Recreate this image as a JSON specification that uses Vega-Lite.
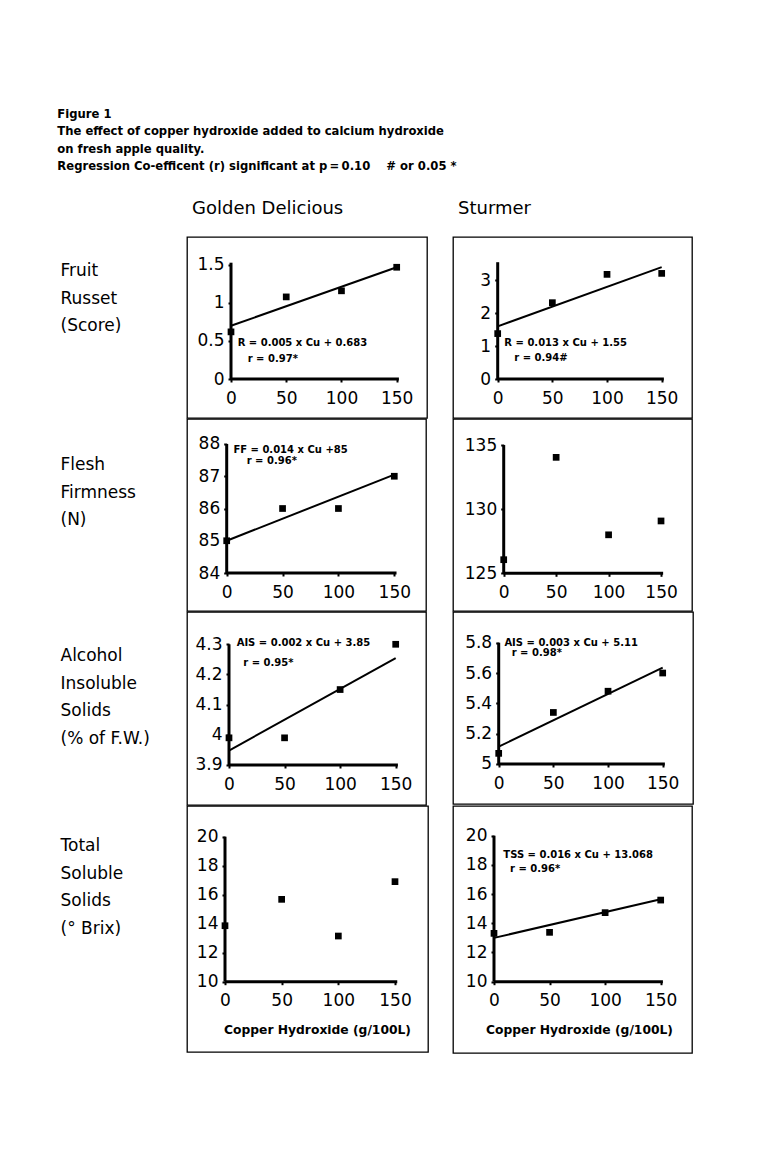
{
  "$schema": "https://vega.github.io/schema/vega-lite/v6.json",
  "background": "white",
  "padding": {"left": 57, "top": 108, "right": 5, "bottom": 5},
  "title": {
    "text": ["Figure 1", "The effect of copper hydroxide added to calcium hydroxide", "on fresh apple quality.", "Regression Co-efficent (r) significant at p\u2009=\u20090.10\u00a0\u00a0\u00a0\u00a0# or 0.05\u00a0*"],
    "anchor": "start", "frame": "bounds", "font": "DejaVu Sans", "fontSize": 11.6, "fontWeight": "bold",
    "lineHeight": 17.5, "baseline": "bottom", "offset": 15, "color": "black", "dx": -2
  },
  "datasets": {
    "points": [
      {"cultivar": "Golden Delicious", "trait": "Fruit Russet", "cu": 0, "value": 0.62},
      {"cultivar": "Golden Delicious", "trait": "Fruit Russet", "cu": 50, "value": 1.08},
      {"cultivar": "Golden Delicious", "trait": "Fruit Russet", "cu": 100, "value": 1.16},
      {"cultivar": "Golden Delicious", "trait": "Fruit Russet", "cu": 150, "value": 1.47},
      {"cultivar": "Sturmer", "trait": "Fruit Russet", "cu": 0, "value": 1.38},
      {"cultivar": "Sturmer", "trait": "Fruit Russet", "cu": 50, "value": 2.32},
      {"cultivar": "Sturmer", "trait": "Fruit Russet", "cu": 100, "value": 3.18},
      {"cultivar": "Sturmer", "trait": "Fruit Russet", "cu": 150, "value": 3.21},
      {"cultivar": "Golden Delicious", "trait": "Flesh Firmness", "cu": 0, "value": 85.0},
      {"cultivar": "Golden Delicious", "trait": "Flesh Firmness", "cu": 50, "value": 86.0},
      {"cultivar": "Golden Delicious", "trait": "Flesh Firmness", "cu": 100, "value": 86.0},
      {"cultivar": "Golden Delicious", "trait": "Flesh Firmness", "cu": 150, "value": 87.0},
      {"cultivar": "Sturmer", "trait": "Flesh Firmness", "cu": 0, "value": 126.06},
      {"cultivar": "Sturmer", "trait": "Flesh Firmness", "cu": 50, "value": 134.04},
      {"cultivar": "Sturmer", "trait": "Flesh Firmness", "cu": 100, "value": 128.0},
      {"cultivar": "Sturmer", "trait": "Flesh Firmness", "cu": 150, "value": 129.08},
      {"cultivar": "Golden Delicious", "trait": "Alcohol Insoluble Solids", "cu": 0, "value": 3.99},
      {"cultivar": "Golden Delicious", "trait": "Alcohol Insoluble Solids", "cu": 50, "value": 3.99},
      {"cultivar": "Golden Delicious", "trait": "Alcohol Insoluble Solids", "cu": 100, "value": 4.15},
      {"cultivar": "Golden Delicious", "trait": "Alcohol Insoluble Solids", "cu": 150, "value": 4.30},
      {"cultivar": "Sturmer", "trait": "Alcohol Insoluble Solids", "cu": 0, "value": 5.07},
      {"cultivar": "Sturmer", "trait": "Alcohol Insoluble Solids", "cu": 50, "value": 5.34},
      {"cultivar": "Sturmer", "trait": "Alcohol Insoluble Solids", "cu": 100, "value": 5.48},
      {"cultivar": "Sturmer", "trait": "Alcohol Insoluble Solids", "cu": 150, "value": 5.60},
      {"cultivar": "Golden Delicious", "trait": "Total Soluble Solids", "cu": 0, "value": 13.86},
      {"cultivar": "Golden Delicious", "trait": "Total Soluble Solids", "cu": 50, "value": 15.68},
      {"cultivar": "Golden Delicious", "trait": "Total Soluble Solids", "cu": 100, "value": 13.15},
      {"cultivar": "Golden Delicious", "trait": "Total Soluble Solids", "cu": 150, "value": 16.9},
      {"cultivar": "Sturmer", "trait": "Total Soluble Solids", "cu": 0, "value": 13.31},
      {"cultivar": "Sturmer", "trait": "Total Soluble Solids", "cu": 50, "value": 13.38},
      {"cultivar": "Sturmer", "trait": "Total Soluble Solids", "cu": 100, "value": 14.73},
      {"cultivar": "Sturmer", "trait": "Total Soluble Solids", "cu": 150, "value": 15.59}
    ],
    "fits": [
      {"cultivar": "Golden Delicious", "trait": "Fruit Russet", "cu": 0, "value": 0.70},
      {"cultivar": "Golden Delicious", "trait": "Fruit Russet", "cu": 150, "value": 1.47},
      {"cultivar": "Sturmer", "trait": "Fruit Russet", "cu": 0, "value": 1.60},
      {"cultivar": "Sturmer", "trait": "Fruit Russet", "cu": 150, "value": 3.40},
      {"cultivar": "Golden Delicious", "trait": "Flesh Firmness", "cu": 0, "value": 85.0},
      {"cultivar": "Golden Delicious", "trait": "Flesh Firmness", "cu": 150, "value": 87.05},
      {"cultivar": "Golden Delicious", "trait": "Alcohol Insoluble Solids", "cu": 0, "value": 3.948},
      {"cultivar": "Golden Delicious", "trait": "Alcohol Insoluble Solids", "cu": 150, "value": 4.254},
      {"cultivar": "Sturmer", "trait": "Alcohol Insoluble Solids", "cu": 0, "value": 5.114},
      {"cultivar": "Sturmer", "trait": "Alcohol Insoluble Solids", "cu": 150, "value": 5.635},
      {"cultivar": "Sturmer", "trait": "Total Soluble Solids", "cu": 0, "value": 13.0},
      {"cultivar": "Sturmer", "trait": "Total Soluble Solids", "cu": 150, "value": 15.65}
    ],
    "notes": [
      {"cultivar": "Golden Delicious", "trait": "Fruit Russet", "eq": "R = 0.005 x Cu + 0.683", "r": "r = 0.97*"},
      {"cultivar": "Sturmer", "trait": "Fruit Russet", "eq": "R = 0.013 x Cu + 1.55", "r": "r = 0.94#"},
      {"cultivar": "Golden Delicious", "trait": "Flesh Firmness", "eq": "FF = 0.014 x Cu +85", "r": "r = 0.96*"},
      {"cultivar": "Golden Delicious", "trait": "Alcohol Insoluble Solids", "eq": "AIS = 0.002 x Cu + 3.85", "r": "r = 0.95*"},
      {"cultivar": "Sturmer", "trait": "Alcohol Insoluble Solids", "eq": "AIS = 0.003 x Cu + 5.11", "r": "r = 0.98*"},
      {"cultivar": "Sturmer", "trait": "Total Soluble Solids", "eq": "TSS = 0.016 x Cu + 13.068", "r": "r = 0.96*"}
    ]
  },
  "columns": 2,
  "spacing": {"row": -1, "column": 23},
  "concat": [
    {
      "width": 240, "height": 181,
      "title": {"text": "Golden Delicious", "anchor": "start", "frame": "group", "dx": 5, "offset": 5.5, "fontSize": 18, "fontWeight": "normal", "font": "DejaVu Sans", "baseline": "alphabetic", "color": "black"},
      "layer": [
        {"data": {"name": "points"}, "transform": [{"filter": "datum.cultivar === 'Golden Delicious' && datum.trait === 'Fruit Russet'"}],
         "mark": {"type": "square", "size": 45, "color": "black", "opacity": 1},
         "encoding": {
           "x": {"field": "cu", "type": "quantitative", "scale": {"domain": [-39.83, 177.43], "nice": false, "zero": false}, "axis": {"values": [0, 50, 100, 150], "offset": -39, "title": null}},
           "y": {"field": "value", "type": "quantitative", "scale": {"domain": [-0.513, 1.868], "nice": false, "zero": false}, "axis": {"values": [0, 0.5, 1, 1.5], "format": "~g", "offset": -44, "title": ["Fruit", "Russet", "(Score)"], "titleAngle": 0, "titleAlign": "left", "titleBaseline": "top", "titleX": -171, "titleY": 25.6, "titleFontSize": 17, "titleFontWeight": "normal", "titleLineHeight": 27.5}}
         }},
        {"data": {"values": [{}]}, "mark": {"type": "rule", "color": "black", "strokeWidth": 3}, "encoding": {"x": {"datum": 0}, "y": {"datum": 0}, "y2": {"datum": 1.53}}},
        {"data": {"values": [{}]}, "mark": {"type": "rule", "color": "black", "strokeWidth": 3}, "encoding": {"x": {"datum": 0}, "x2": {"datum": 152}, "y": {"datum": 0}}},
        {"data": {"name": "fits"}, "transform": [{"filter": "datum.cultivar === 'Golden Delicious' && datum.trait === 'Fruit Russet'"}],
         "mark": {"type": "line", "color": "black", "strokeWidth": 2}, "encoding": {"x": {"field": "cu", "type": "quantitative"}, "y": {"field": "value", "type": "quantitative"}}},
        {"data": {"name": "notes"}, "transform": [{"filter": "datum.cultivar === 'Golden Delicious' && datum.trait === 'Fruit Russet'"}],
         "mark": {"type": "text", "align": "left", "baseline": "middle", "fontSize": 10, "fontWeight": "bold", "font": "DejaVu Sans", "color": "black"},
         "encoding": {"x": {"datum": 6}, "y": {"datum": 0.469}, "text": {"field": "eq"}}},
        {"data": {"name": "notes"}, "transform": [{"filter": "datum.cultivar === 'Golden Delicious' && datum.trait === 'Fruit Russet'"}],
         "mark": {"type": "text", "align": "left", "baseline": "middle", "fontSize": 10, "fontWeight": "bold", "font": "DejaVu Sans", "color": "black"},
         "encoding": {"x": {"datum": 15.1}, "y": {"datum": 0.263}, "text": {"field": "r"}}}
      ]
    },
    {
      "width": 239, "height": 181,
      "title": {"text": "Sturmer", "anchor": "start", "frame": "group", "dx": 5, "offset": 5.5, "fontSize": 18, "fontWeight": "normal", "font": "DejaVu Sans", "baseline": "alphabetic", "color": "black"},
      "layer": [
        {"data": {"name": "points"}, "transform": [{"filter": "datum.cultivar === 'Sturmer' && datum.trait === 'Fruit Russet'"}],
         "mark": {"type": "square", "size": 45, "color": "black", "opacity": 1},
         "encoding": {
           "x": {"field": "cu", "type": "quantitative", "scale": {"domain": [-40.88, 177.72], "nice": false, "zero": false}, "axis": {"values": [0, 50, 100, 150], "offset": -39, "title": null}},
           "y": {"field": "value", "type": "quantitative", "scale": {"domain": [-1.185, 4.316], "nice": false, "zero": false}, "axis": {"values": [0, 1, 2, 3], "format": "~g", "offset": -44.7, "title": null}}
         }},
        {"data": {"values": [{}]}, "mark": {"type": "rule", "color": "black", "strokeWidth": 3}, "encoding": {"x": {"datum": 0}, "y": {"datum": 0}, "y2": {"datum": 3.55}}},
        {"data": {"values": [{}]}, "mark": {"type": "rule", "color": "black", "strokeWidth": 3}, "encoding": {"x": {"datum": 0}, "x2": {"datum": 152}, "y": {"datum": 0}}},
        {"data": {"name": "fits"}, "transform": [{"filter": "datum.cultivar === 'Sturmer' && datum.trait === 'Fruit Russet'"}],
         "mark": {"type": "line", "color": "black", "strokeWidth": 2}, "encoding": {"x": {"field": "cu", "type": "quantitative"}, "y": {"field": "value", "type": "quantitative"}}},
        {"data": {"name": "notes"}, "transform": [{"filter": "datum.cultivar === 'Sturmer' && datum.trait === 'Fruit Russet'"}],
         "mark": {"type": "text", "align": "left", "baseline": "middle", "fontSize": 10, "fontWeight": "bold", "font": "DejaVu Sans", "color": "black"},
         "encoding": {"x": {"datum": 6.1}, "y": {"datum": 1.084}, "text": {"field": "eq"}}},
        {"data": {"name": "notes"}, "transform": [{"filter": "datum.cultivar === 'Sturmer' && datum.trait === 'Fruit Russet'"}],
         "mark": {"type": "text", "align": "left", "baseline": "middle", "fontSize": 10, "fontWeight": "bold", "font": "DejaVu Sans", "color": "black"},
         "encoding": {"x": {"datum": 15.2}, "y": {"datum": 0.628}, "text": {"field": "r"}}}
      ]
    },
    {
      "width": 239, "height": 192,
      "layer": [
        {"data": {"name": "points"}, "transform": [{"filter": "datum.cultivar === 'Golden Delicious' && datum.trait === 'Flesh Firmness'"}],
         "mark": {"type": "square", "size": 45, "color": "black", "opacity": 1},
         "encoding": {
           "x": {"field": "cu", "type": "quantitative", "scale": {"domain": [-35.53, 178.38], "nice": false, "zero": false}, "axis": {"values": [0, 50, 100, 150], "offset": -38, "title": null}},
           "y": {"field": "value", "type": "quantitative", "scale": {"domain": [82.822, 88.775], "nice": false, "zero": false}, "axis": {"values": [84, 85, 86, 87, 88], "format": "~g", "offset": -39.7, "title": ["Flesh", "Firmness", "(N)"], "titleAngle": 0, "titleAlign": "left", "titleBaseline": "top", "titleX": -166.7, "titleY": 37.6, "titleFontSize": 17, "titleFontWeight": "normal", "titleLineHeight": 27.5}}
         }},
        {"data": {"values": [{}]}, "mark": {"type": "rule", "color": "black", "strokeWidth": 3}, "encoding": {"x": {"datum": 0}, "y": {"datum": 84}, "y2": {"datum": 88}}},
        {"data": {"values": [{}]}, "mark": {"type": "rule", "color": "black", "strokeWidth": 3}, "encoding": {"x": {"datum": 0}, "x2": {"datum": 152}, "y": {"datum": 84}}},
        {"data": {"name": "fits"}, "transform": [{"filter": "datum.cultivar === 'Golden Delicious' && datum.trait === 'Flesh Firmness'"}],
         "mark": {"type": "line", "color": "black", "strokeWidth": 2}, "encoding": {"x": {"field": "cu", "type": "quantitative"}, "y": {"field": "value", "type": "quantitative"}}},
        {"data": {"name": "notes"}, "transform": [{"filter": "datum.cultivar === 'Golden Delicious' && datum.trait === 'Flesh Firmness'"}],
         "mark": {"type": "text", "align": "left", "baseline": "middle", "fontSize": 10, "fontWeight": "bold", "font": "DejaVu Sans", "color": "black"},
         "encoding": {"x": {"datum": 6.0}, "y": {"datum": 87.82}, "text": {"field": "eq"}}},
        {"data": {"name": "notes"}, "transform": [{"filter": "datum.cultivar === 'Golden Delicious' && datum.trait === 'Flesh Firmness'"}],
         "mark": {"type": "text", "align": "left", "baseline": "middle", "fontSize": 10, "fontWeight": "bold", "font": "DejaVu Sans", "color": "black"},
         "encoding": {"x": {"datum": 17.9}, "y": {"datum": 87.46}, "text": {"field": "r"}}}
      ]
    },
    {
      "width": 239, "height": 192,
      "layer": [
        {"data": {"name": "points"}, "transform": [{"filter": "datum.cultivar === 'Sturmer' && datum.trait === 'Flesh Firmness'"}],
         "mark": {"type": "square", "size": 45, "color": "black", "opacity": 1},
         "encoding": {
           "x": {"field": "cu", "type": "quantitative", "scale": {"domain": [-48.35, 179.53], "nice": false, "zero": false}, "axis": {"values": [0, 50, 100, 150], "offset": -37.7, "title": null}},
           "y": {"field": "value", "type": "quantitative", "scale": {"domain": [122.06, 137.03], "nice": false, "zero": false}, "axis": {"values": [125, 130, 135], "format": "~g", "offset": -50.7, "title": null}}
         }},
        {"data": {"values": [{}]}, "mark": {"type": "rule", "color": "black", "strokeWidth": 3}, "encoding": {"x": {"datum": 0}, "y": {"datum": 125}, "y2": {"datum": 135}}},
        {"data": {"values": [{}]}, "mark": {"type": "rule", "color": "black", "strokeWidth": 3}, "encoding": {"x": {"datum": 0}, "x2": {"datum": 152}, "y": {"datum": 125}}}
      ]
    },
    {
      "width": 239, "height": 193,
      "layer": [
        {"data": {"name": "points"}, "transform": [{"filter": "datum.cultivar === 'Golden Delicious' && datum.trait === 'Alcohol Insoluble Solids'"}],
         "mark": {"type": "square", "size": 45, "color": "black", "opacity": 1},
         "encoding": {
           "x": {"field": "cu", "type": "quantitative", "scale": {"domain": [-37.79, 177.27], "nice": false, "zero": false}, "axis": {"values": [0, 50, 100, 150], "offset": -40, "title": null}},
           "y": {"field": "value", "type": "quantitative", "scale": {"domain": [3.7674, 4.407], "nice": false, "zero": false}, "axis": {"values": [3.9, 4, 4.1, 4.2, 4.3], "format": "~g", "offset": -42, "title": ["Alcohol", "Insoluble", "Solids", "(% of F.W.)"], "titleAngle": 0, "titleAlign": "left", "titleBaseline": "top", "titleX": -169, "titleY": 35.6, "titleFontSize": 17, "titleFontWeight": "normal", "titleLineHeight": 27.5}}
         }},
        {"data": {"values": [{}]}, "mark": {"type": "rule", "color": "black", "strokeWidth": 3}, "encoding": {"x": {"datum": 0}, "y": {"datum": 3.9}, "y2": {"datum": 4.3}}},
        {"data": {"values": [{}]}, "mark": {"type": "rule", "color": "black", "strokeWidth": 3}, "encoding": {"x": {"datum": 0}, "x2": {"datum": 152}, "y": {"datum": 3.9}}},
        {"data": {"name": "fits"}, "transform": [{"filter": "datum.cultivar === 'Golden Delicious' && datum.trait === 'Alcohol Insoluble Solids'"}],
         "mark": {"type": "line", "color": "black", "strokeWidth": 2}, "encoding": {"x": {"field": "cu", "type": "quantitative"}, "y": {"field": "value", "type": "quantitative"}}},
        {"data": {"name": "notes"}, "transform": [{"filter": "datum.cultivar === 'Golden Delicious' && datum.trait === 'Alcohol Insoluble Solids'"}],
         "mark": {"type": "text", "align": "left", "baseline": "middle", "fontSize": 10, "fontWeight": "bold", "font": "DejaVu Sans", "color": "black"},
         "encoding": {"x": {"datum": 6.9}, "y": {"datum": 4.303}, "text": {"field": "eq"}}},
        {"data": {"name": "notes"}, "transform": [{"filter": "datum.cultivar === 'Golden Delicious' && datum.trait === 'Alcohol Insoluble Solids'"}],
         "mark": {"type": "text", "align": "left", "baseline": "middle", "fontSize": 10, "fontWeight": "bold", "font": "DejaVu Sans", "color": "black"},
         "encoding": {"x": {"datum": 12.9}, "y": {"datum": 4.237}, "text": {"field": "r"}}}
      ]
    },
    {
      "width": 240, "height": 192,
      "layer": [
        {"data": {"name": "points"}, "transform": [{"filter": "datum.cultivar === 'Sturmer' && datum.trait === 'Alcohol Insoluble Solids'"}],
         "mark": {"type": "square", "size": 45, "color": "black", "opacity": 1},
         "encoding": {
           "x": {"field": "cu", "type": "quantitative", "scale": {"domain": [-41.8, 177.72], "nice": false, "zero": false}, "axis": {"values": [0, 50, 100, 150], "offset": -40, "title": null}},
           "y": {"field": "value", "type": "quantitative", "scale": {"domain": [4.736, 6.0026], "nice": false, "zero": false}, "axis": {"values": [5, 5.2, 5.4, 5.6, 5.8], "format": "~g", "offset": -45.7, "title": null}}
         }},
        {"data": {"values": [{}]}, "mark": {"type": "rule", "color": "black", "strokeWidth": 3}, "encoding": {"x": {"datum": 0}, "y": {"datum": 5}, "y2": {"datum": 5.8}}},
        {"data": {"values": [{}]}, "mark": {"type": "rule", "color": "black", "strokeWidth": 3}, "encoding": {"x": {"datum": 0}, "x2": {"datum": 152}, "y": {"datum": 5}}},
        {"data": {"name": "fits"}, "transform": [{"filter": "datum.cultivar === 'Sturmer' && datum.trait === 'Alcohol Insoluble Solids'"}],
         "mark": {"type": "line", "color": "black", "strokeWidth": 2}, "encoding": {"x": {"field": "cu", "type": "quantitative"}, "y": {"field": "value", "type": "quantitative"}}},
        {"data": {"name": "notes"}, "transform": [{"filter": "datum.cultivar === 'Sturmer' && datum.trait === 'Alcohol Insoluble Solids'"}],
         "mark": {"type": "text", "align": "left", "baseline": "middle", "fontSize": 10, "fontWeight": "bold", "font": "DejaVu Sans", "color": "black"},
         "encoding": {"x": {"datum": 5.2}, "y": {"datum": 5.8}, "text": {"field": "eq"}}},
        {"data": {"name": "notes"}, "transform": [{"filter": "datum.cultivar === 'Sturmer' && datum.trait === 'Alcohol Insoluble Solids'"}],
         "mark": {"type": "text", "align": "left", "baseline": "middle", "fontSize": 10, "fontWeight": "bold", "font": "DejaVu Sans", "color": "black"},
         "encoding": {"x": {"datum": 11.9}, "y": {"datum": 5.73}, "text": {"field": "r"}}}
      ]
    },
    {
      "width": 241, "height": 246,
      "layer": [
        {"data": {"name": "points"}, "transform": [{"filter": "datum.cultivar === 'Golden Delicious' && datum.trait === 'Total Soluble Solids'"}],
         "mark": {"type": "square", "size": 45, "color": "black", "opacity": 1},
         "encoding": {
           "x": {"field": "cu", "type": "quantitative", "scale": {"domain": [-33.53, 179.12], "nice": false, "zero": false}, "axis": {"values": [0, 50, 100, 150], "offset": -70.3, "title": "Copper Hydroxide (g/100L)", "titleFontSize": 12.3, "titleFontWeight": "bold", "titleX": 130, "titleY": 48, "titleBaseline": "middle", "titleAlign": "center"}},
           "y": {"field": "value", "type": "quantitative", "scale": {"domain": [5.152, 22.117], "nice": false, "zero": false}, "axis": {"values": [10, 12, 14, 16, 18, 20], "format": "~g", "offset": -38, "title": ["Total", "Soluble", "Solids", "(° Brix)"], "titleAngle": 0, "titleAlign": "left", "titleBaseline": "top", "titleX": -165, "titleY": 31.6, "titleFontSize": 17, "titleFontWeight": "normal", "titleLineHeight": 27.5}}
         }},
        {"data": {"values": [{}]}, "mark": {"type": "rule", "color": "black", "strokeWidth": 3}, "encoding": {"x": {"datum": 0}, "y": {"datum": 10}, "y2": {"datum": 20}}},
        {"data": {"values": [{}]}, "mark": {"type": "rule", "color": "black", "strokeWidth": 3}, "encoding": {"x": {"datum": 0}, "x2": {"datum": 152}, "y": {"datum": 10}}}
      ]
    },
    {
      "width": 239, "height": 247,
      "layer": [
        {"data": {"name": "points"}, "transform": [{"filter": "datum.cultivar === 'Sturmer' && datum.trait === 'Total Soluble Solids'"}],
         "mark": {"type": "square", "size": 45, "color": "black", "opacity": 1},
         "encoding": {
           "x": {"field": "cu", "type": "quantitative", "scale": {"domain": [-36.89, 178.17], "nice": false, "zero": false}, "axis": {"values": [0, 50, 100, 150], "offset": -71.3, "title": "Copper Hydroxide (g/100L)", "titleFontSize": 12.3, "titleFontWeight": "bold", "titleX": 126, "titleY": 48, "titleBaseline": "middle", "titleAlign": "center"}},
           "y": {"field": "value", "type": "quantitative", "scale": {"domain": [5.116, 22.034], "nice": false, "zero": false}, "axis": {"values": [10, 12, 14, 16, 18, 20], "format": "~g", "offset": -41, "title": null}}
         }},
        {"data": {"values": [{}]}, "mark": {"type": "rule", "color": "black", "strokeWidth": 3}, "encoding": {"x": {"datum": 0}, "y": {"datum": 10}, "y2": {"datum": 20}}},
        {"data": {"values": [{}]}, "mark": {"type": "rule", "color": "black", "strokeWidth": 3}, "encoding": {"x": {"datum": 0}, "x2": {"datum": 152}, "y": {"datum": 10}}},
        {"data": {"name": "fits"}, "transform": [{"filter": "datum.cultivar === 'Sturmer' && datum.trait === 'Total Soluble Solids'"}],
         "mark": {"type": "line", "color": "black", "strokeWidth": 2}, "encoding": {"x": {"field": "cu", "type": "quantitative"}, "y": {"field": "value", "type": "quantitative"}}},
        {"data": {"name": "notes"}, "transform": [{"filter": "datum.cultivar === 'Sturmer' && datum.trait === 'Total Soluble Solids'"}],
         "mark": {"type": "text", "align": "left", "baseline": "middle", "fontSize": 10, "fontWeight": "bold", "font": "DejaVu Sans", "color": "black"},
         "encoding": {"x": {"datum": 8.4}, "y": {"datum": 18.68}, "text": {"field": "eq"}}},
        {"data": {"name": "notes"}, "transform": [{"filter": "datum.cultivar === 'Sturmer' && datum.trait === 'Total Soluble Solids'"}],
         "mark": {"type": "text", "align": "left", "baseline": "middle", "fontSize": 10, "fontWeight": "bold", "font": "DejaVu Sans", "color": "black"},
         "encoding": {"x": {"datum": 14.4}, "y": {"datum": 17.72}, "text": {"field": "r"}}}
      ]
    }
  ],
  "config": {
    "font": "DejaVu Sans",
    "view": {"stroke": "black", "strokeWidth": 1.3},
    "axis": {"grid": false, "domain": false, "ticks": true, "tickColor": "black", "tickSize": 3, "tickWidth": 2, "labelFont": "DejaVu Sans", "labelFontSize": 17, "labelColor": "black", "labelPadding": 4, "labelOverlap": false, "labelFlush": false, "titleColor": "black", "titleFont": "DejaVu Sans"},
    "axisX": {"labelPadding": 8}
  }
}
